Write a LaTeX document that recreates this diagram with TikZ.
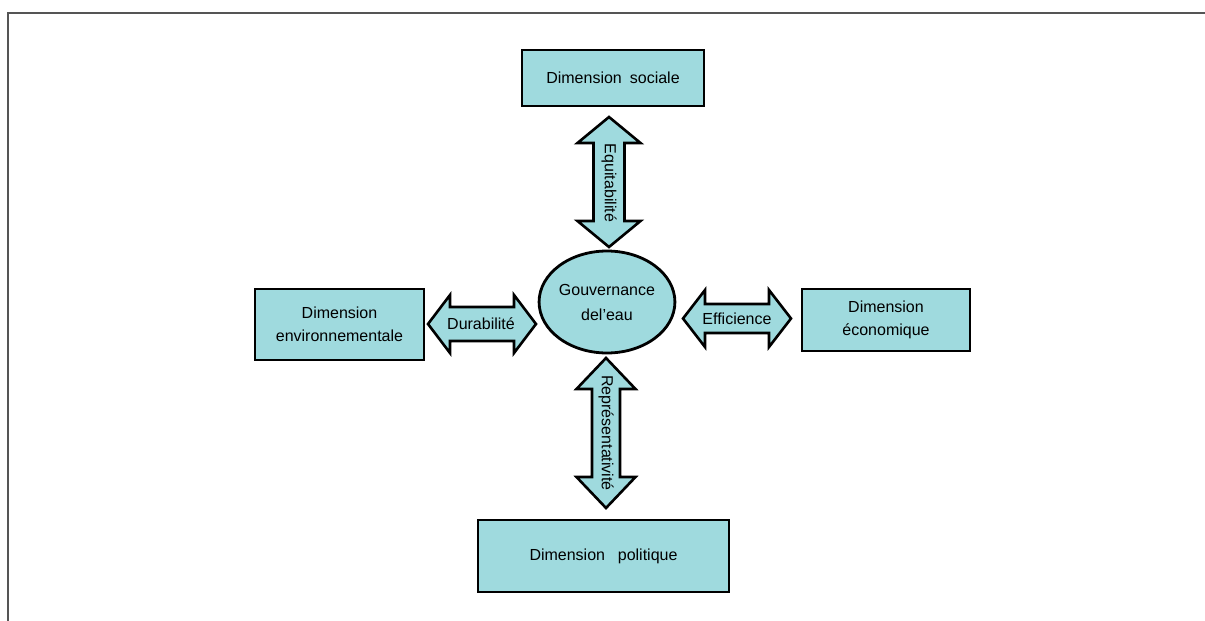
\documentclass[tikz,border=0pt]{standalone}
\usepackage{fontspec}
\setmainfont{Liberation Sans}
\usetikzlibrary{shapes.geometric}
\definecolor{aqua}{RGB}{159,218,222}
\definecolor{framegray}{RGB}{85,85,85}
\newcommand{\harrow}[6]{% x1, x2, y, head length, head half-width, shaft half-width
  \filldraw[blockarrow] (#1,#3) -- (#1+#4,#3-#5) -- (#1+#4,#3-#6) -- (#2-#4,#3-#6)
    -- (#2-#4,#3-#5) -- (#2,#3) -- (#2-#4,#3+#5) -- (#2-#4,#3+#6)
    -- (#1+#4,#3+#6) -- (#1+#4,#3+#5) -- cycle;}
\newcommand{\varrow}[6]{% y1, y2, x, head length, head half-width, shaft half-width
  \filldraw[blockarrow] (#3,#1) -- (#3+#5,#1+#4) -- (#3+#6,#1+#4) -- (#3+#6,#2-#4)
    -- (#3+#5,#2-#4) -- (#3,#2) -- (#3-#5,#2-#4) -- (#3-#6,#2-#4)
    -- (#3-#6,#1+#4) -- (#3-#5,#1+#4) -- cycle;}
\begin{document}
\begin{tikzpicture}[x=1pt,y=-1pt,
  dimbox/.style={draw=black, line width=2.8pt, fill=aqua, inner sep=0pt,
    align=center, font=\fontsize{16}{23}\selectfont},
  blockarrow/.style={draw=black, line width=2.6pt, fill=aqua, line join=miter},
  arrowtext/.style={inner sep=0pt, font=\fontsize{16}{18}\selectfont}]
\useasboundingbox (0,0) rectangle (1205,621);
% outer frame
\draw[framegray, line width=2pt] (8,621) -- (8,13) -- (1205,13);

% dimensions
\node[dimbox, minimum width=182pt, minimum height=56pt] (social) at (613,78)
  {Dimension\hspace{0.5em}sociale};
\node[dimbox, minimum width=169pt, minimum height=71pt] (env) at (339.5,324.5)
  {Dimension\\environnementale};
\node[dimbox, minimum width=168pt, minimum height=62pt] (eco) at (886,320)
  {Dimension\\économique};
\node[dimbox, minimum width=251pt, minimum height=72pt] (pol) at (603.5,556)
  {Dimension\hspace{0.8em}politique};

% centre
\node[dimbox, ellipse, minimum width=132pt, minimum height=102pt,
  font=\fontsize{16}{25}\selectfont] (gov) at (607,302) {Gouvernance\\del’eau};

% double block arrows with their labels
\varrow{117}{247}{609}{26}{31.5}{15.5}
\node[arrowtext, rotate=-90] (equi) at (609,183) {Equitabilité};
\varrow{358}{508}{606}{31}{29.5}{14}
\node[arrowtext, rotate=-90] (repr) at (606,433) {Représentativité};
\harrow{428}{536}{324}{22}{29}{17}
\node[arrowtext] (dura) at (481,324) {Durabilité};
\harrow{683}{791}{318.5}{22}{28.5}{14.5}
\node[arrowtext] (effi) at (737,318.5) {Efficience};
\end{tikzpicture}
\end{document}
